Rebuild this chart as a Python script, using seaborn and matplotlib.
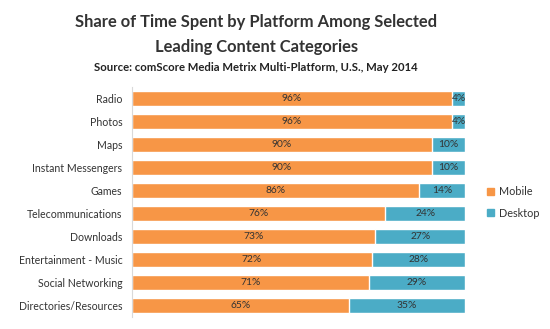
import matplotlib
matplotlib.use("Agg")
import matplotlib.pyplot as plt
import seaborn as sns
import pandas as pd
from matplotlib.patches import Patch

categories = ["Radio", "Photos", "Maps", "Instant Messengers", "Games",
              "Telecommunications", "Downloads", "Entertainment - Music",
              "Social Networking", "Directories/Resources"]
mobile = [96, 96, 90, 90, 86, 76, 73, 72, 71, 65]
desktop = [4, 4, 10, 10, 14, 24, 27, 28, 29, 35]
series = ["Mobile", "Desktop"]
title1 = "Share of Time Spent by Platform Among Selected"
title2 = "Leading Content Categories"
subtitle = "Source: comScore Media Metrix Multi-Platform, U.S., May 2014"

orange = "#F79646"
blue = "#4BACC6"

sns.set_theme(style="white")
plt.rcParams['font.family'] = ['Lato', 'DejaVu Sans']

df = pd.DataFrame({"category": categories, "Mobile": mobile, "Desktop": desktop})
df["total"] = df["Mobile"] + df["Desktop"]

fig = plt.figure(figsize=(5.5, 3.29), dpi=100)
ax = fig.add_axes([0.24, 0.037, 0.606, 0.699])

sns.barplot(data=df, y="category", x="total", color=blue, orient="h",
            width=0.65, ax=ax, saturation=1, order=categories)
sns.barplot(data=df, y="category", x="Mobile", color=orange, orient="h",
            width=0.65, ax=ax, saturation=1, order=categories)

txtc = "#333333"
for i, (m, d) in enumerate(zip(mobile, desktop)):
    ax.text(m / 2, i, f"{m}%", ha="center", va="center", fontsize=7.4, color=txtc)
    ax.text(m + d / 2, i, f"{d}%", ha="center", va="center", fontsize=7.4, color=txtc)

ax.set_xlim(0, 100)
ax.set_ylim(9.5, -0.5)
ax.set_xlabel("")
ax.set_ylabel("")
ax.set_xticks([])
ax.tick_params(axis="y", length=0, pad=7, labelsize=7.6, labelcolor=txtc)
for s in ["top", "right", "bottom"]:
    ax.spines[s].set_visible(False)
ax.spines["left"].set_color("#d9d9d9")
ax.spines["left"].set_linewidth(0.8)

handles = [Patch(color=orange, label=series[0]), Patch(color=blue, label=series[1])]
leg = fig.legend(handles=handles, loc="center left", bbox_to_anchor=(0.868, 0.385),
                 frameon=False, fontsize=7.8, handlelength=0.6, handleheight=0.6,
                 handletextpad=0.5, labelspacing=1.0, labelcolor=txtc)

cx = 0.466
fig.text(cx, 0.933, title1, ha="center", va="center", fontsize=11.9,
         fontweight="bold", color="#333333")
fig.text(cx, 0.857, title2, ha="center", va="center", fontsize=11.9,
         fontweight="bold", color="#333333")
fig.text(cx, 0.796, subtitle, ha="center", va="center", fontsize=8.2,
         fontweight="bold", color="#222222")

fig.savefig("out.png", dpi=100)
